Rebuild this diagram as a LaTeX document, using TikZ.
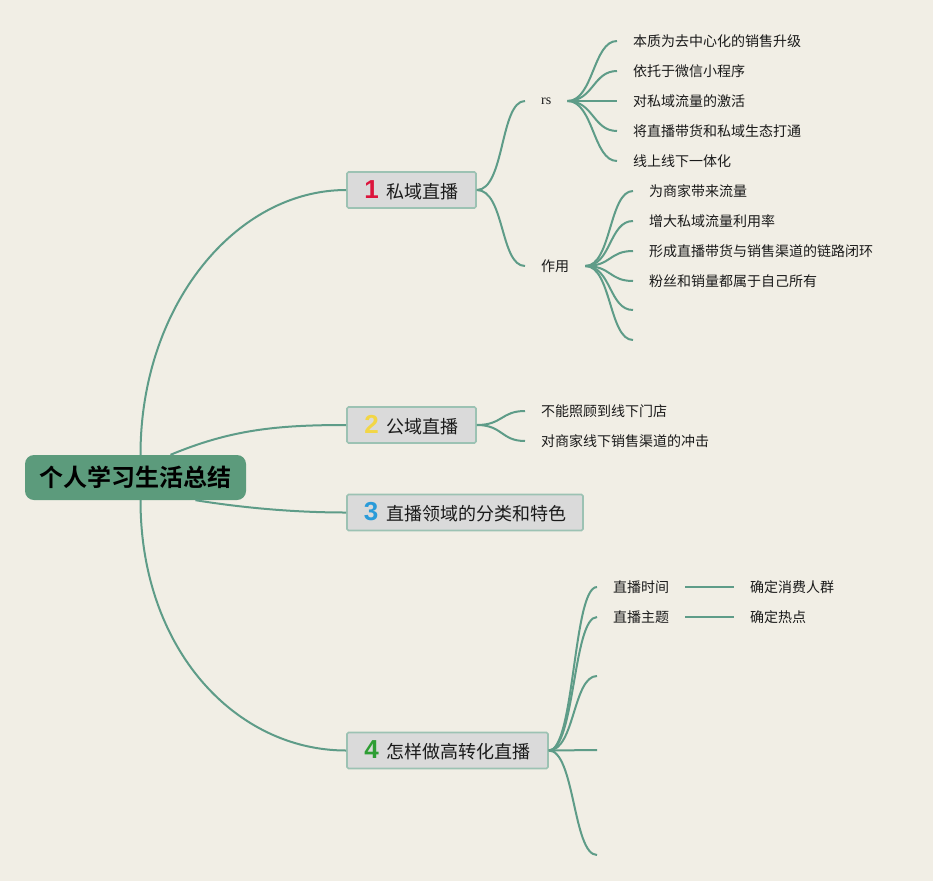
\documentclass[tikz,border=0pt]{standalone}
\usepackage{fontspec}
\setmainfont{Noto Sans CJK SC}[BoldFont={Noto Sans CJK SC Bold}]
\newfontfamily\numfont{Liberation Sans}[BoldFont={Liberation Sans Bold}]
\newfontfamily\rsfont{Liberation Serif}
\definecolor{bg}{HTML}{F1EEE5}
\definecolor{edge}{HTML}{5E9C88}
\definecolor{rootfill}{HTML}{5C9B7C}
\definecolor{boxfill}{HTML}{DADADA}
\definecolor{boxdraw}{HTML}{9CC2B3}
\definecolor{txt}{HTML}{1A1A1A}
\definecolor{cone}{HTML}{DC143C}
\definecolor{ctwo}{HTML}{F2D646}
\definecolor{cthree}{HTML}{2A9BD9}
\definecolor{cfour}{HTML}{2E9E34}
\tikzset{
  conn/.style={draw=edge, line width=2pt},
  rootbox/.style={fill=rootfill, rounded corners=9pt, minimum width=221pt, minimum height=45pt, inner sep=0pt, font=\fontsize{24}{26}\selectfont\bfseries, text=black},
  topicbox/.style={fill=boxfill, draw=boxdraw, line width=1.6pt, rounded corners=1.5pt, minimum height=36pt, inner sep=0pt, font=\fontsize{18}{20}\selectfont, text=txt},
  leaf/.style={anchor=west, inner xsep=16pt, inner ysep=2pt, font=\fontsize{14}{15}\selectfont, text=txt}
}
\newcommand{\numtag}[2]{{\numfont\bfseries\fontsize{26}{26}\selectfont\color{#1}#2}\hspace{8pt}}
\begin{document}
\begin{tikzpicture}[x=1pt,y=-1pt]
\path[fill=bg] (0,0) rectangle (933,881);
\useasboundingbox (0,0) rectangle (933,881);

% root and topics
\node[rootbox] (root) at (135.5,477.5) {个人学习生活总结};
\node[topicbox, minimum width=129pt] (b1) at (411.5,190) {\numtag{cone}{1}私域直播};
\node[topicbox, minimum width=129pt] (b2) at (411.5,425) {\numtag{ctwo}{2}公域直播};
\node[topicbox, minimum width=236pt] (b3) at (465,512.5) {\numtag{cthree}{3}直播领域的分类和特色};
\node[topicbox, minimum width=201pt] (b4) at (447.5,750.5) {\numtag{cfour}{4}怎样做高转化直播};

% level 2 under topic 1
\node[leaf] (rs) at (525,101) {\rsfont rs};
\node[leaf] (zy) at (525,266) {作用};

\node[leaf] (r1) at (617,41) {本质为去中心化的销售升级};
\node[leaf] (r2) at (617,71) {依托于微信小程序};
\node[leaf] (r3) at (617,101) {对私域流量的激活};
\node[leaf] (r4) at (617,131) {将直播带货和私域生态打通};
\node[leaf] (r5) at (617,161) {线上线下一体化};

\node[leaf] (z1) at (633,191) {为商家带来流量};
\node[leaf] (z2) at (633,221) {增大私域流量利用率};
\node[leaf] (z3) at (633,251) {形成直播带货与销售渠道的链路闭环};
\node[leaf] (z4) at (633,281) {粉丝和销量都属于自己所有};
\coordinate (z5) at (633,310);
\coordinate (z6) at (633,340);

% topic 2
\node[leaf] (g1) at (525,411) {不能照顾到线下门店};
\node[leaf] (g2) at (525,441) {对商家线下销售渠道的冲击};

% topic 4
\node[leaf] (h1) at (597,587) {直播时间};
\node[leaf] (h2) at (597,617) {直播主题};
\coordinate (h3) at (597,676);
\coordinate (h4) at (597,750);
\coordinate (h5) at (597,855);
\node[leaf] (k1) at (734,587) {确定消费人群};
\node[leaf] (k2) at (734,617) {确定热点};

% connectors from root
\draw[conn] ([xshift=5pt]root.north) .. controls +(0,-150) and +(-110,0) .. (b1.west);
\draw[conn] ([xshift=35pt]root.north) .. controls +(60,-25) and +(-70,0) .. (b2.west);
\draw[conn] ([xshift=60pt]root.south) .. controls +(50,8) and +(-50,0) .. (b3.west);
\draw[conn] ([xshift=5pt]root.south) .. controls +(0,150) and +(-110,0) .. (b4.west);

% topic 1
\foreach \t in {rs,zy} \draw[conn] (b1.east) .. controls +(28,0) and +(-25,0) .. (\t.west);
\foreach \t in {r1,r2,r3,r4,r5} \draw[conn] (rs.east) .. controls +(26,0) and +(-24,0) .. (\t.west);
\foreach \t in {z1,z2,z3,z4} \draw[conn] (zy.east) .. controls +(26,0) and +(-24,0) .. (\t.west);
\foreach \t in {z5,z6} \draw[conn] (zy.east) .. controls +(26,0) and +(-24,0) .. (\t);

% topic 2
\foreach \t in {g1,g2} \draw[conn] (b2.east) .. controls +(26,0) and +(-24,0) .. (\t.west);

% topic 4
\foreach \t in {h1,h2} \draw[conn] (b4.east) .. controls +(26,0) and +(-24,0) .. (\t.west);
\foreach \t in {h3,h4,h5} \draw[conn] (b4.east) .. controls +(26,0) and +(-24,0) .. (\t);
\draw[conn] (h1.east) -- (k1.west);
\draw[conn] (h2.east) -- (k2.west);
\end{tikzpicture}
\end{document}
